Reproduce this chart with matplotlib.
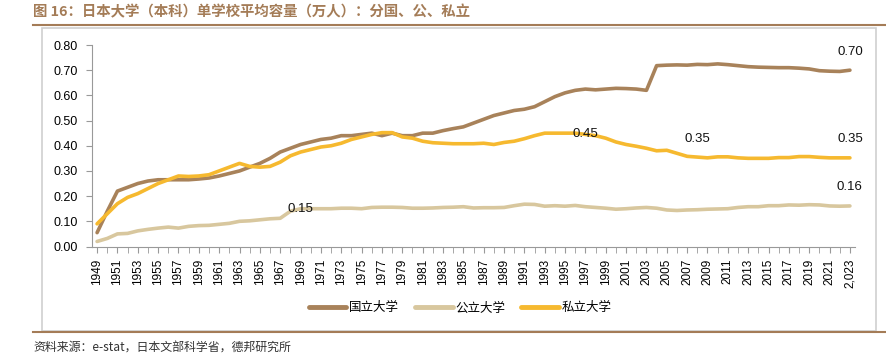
import matplotlib
matplotlib.use('Agg')
import matplotlib.pyplot as plt
import numpy as np
from matplotlib.patches import Rectangle
from matplotlib.lines import Line2D

plt.rcParams['font.family'] = ['Liberation Sans', 'Noto Sans CJK SC', 'DejaVu Sans']

years = list(range(1949, 2024))

national = [0.055, 0.14, 0.22, 0.235, 0.25, 0.26, 0.265, 0.265, 0.265, 0.265,
            0.268, 0.272, 0.28, 0.29, 0.30, 0.315, 0.33, 0.35, 0.375, 0.39,
            0.405, 0.415, 0.425, 0.43, 0.44, 0.44, 0.445, 0.45, 0.44, 0.45,
            0.44, 0.44, 0.45, 0.45, 0.46, 0.468, 0.475, 0.49, 0.505, 0.52,
            0.53, 0.54, 0.545, 0.555, 0.575, 0.595, 0.61, 0.62, 0.625, 0.622,
            0.625, 0.628, 0.627, 0.625, 0.62, 0.718, 0.72, 0.721, 0.72, 0.723,
            0.722, 0.725, 0.722, 0.718, 0.714, 0.712, 0.711, 0.71, 0.71, 0.708,
            0.705, 0.698, 0.696, 0.695, 0.70]

public = [0.02, 0.032, 0.05, 0.052, 0.062, 0.068, 0.073, 0.077, 0.073, 0.08,
          0.083, 0.084, 0.088, 0.092, 0.10, 0.102, 0.106, 0.11, 0.112, 0.14,
          0.15, 0.15, 0.15, 0.15, 0.152, 0.152, 0.15, 0.155, 0.156, 0.156,
          0.155, 0.152, 0.152, 0.153, 0.155, 0.156, 0.158, 0.153, 0.154, 0.154,
          0.155, 0.162, 0.168, 0.167, 0.16, 0.162, 0.16, 0.163, 0.158, 0.155,
          0.152, 0.148, 0.15, 0.153, 0.155, 0.152, 0.145, 0.143, 0.145, 0.146,
          0.148, 0.149, 0.15, 0.155, 0.158, 0.158, 0.162, 0.162, 0.165, 0.164,
          0.166, 0.165, 0.161, 0.16, 0.161]

private = [0.09, 0.13, 0.17, 0.195, 0.21, 0.23, 0.25, 0.265, 0.28, 0.278,
           0.28, 0.285, 0.30, 0.315, 0.33, 0.318, 0.315, 0.318, 0.335, 0.36,
           0.375, 0.385, 0.395, 0.40, 0.41, 0.425, 0.435, 0.445, 0.452, 0.452,
           0.435, 0.43, 0.418, 0.412, 0.41, 0.408, 0.408, 0.408, 0.41, 0.405,
           0.413, 0.418, 0.428, 0.44, 0.45, 0.45, 0.45, 0.45, 0.445, 0.44,
           0.43, 0.415, 0.405, 0.398, 0.39, 0.38, 0.382, 0.37, 0.358, 0.355,
           0.352, 0.356, 0.356, 0.352, 0.35, 0.35, 0.35, 0.353, 0.353, 0.357,
           0.357, 0.354, 0.352, 0.352, 0.352]

names = ['国立大学', '公立大学', '私立大学']
colors = ['#A8825A', '#D8C79E', '#F6B92F']

# labelled points: (series index, year, text, placed above the point?)
labels = [(1, 1969, '0.15', False), (2, 1997, '0.45', False), (2, 2008, '0.35', True),
          (0, 2023, '0.70', True), (2, 2023, '0.35', True), (1, 2023, '0.16', True)]

tick_labels = [str(y) for y in years[::2]]
tick_labels[-1] = '2,023'

fig = plt.figure(figsize=(8.86, 3.61), dpi=100)

# outer frame and rules
fig.add_artist(Rectangle((42/886, 1-331/361), (876-42)/886, (331-28)/361,
                         transform=fig.transFigure, fill=False,
                         edgecolor='#d0d0d0', lw=1.2))
fig.add_artist(Line2D([33/886, 1.0], [1-25/361, 1-25/361], transform=fig.transFigure,
                      color='#A47C57', lw=1.5))
fig.add_artist(Line2D([33/886, 1.0], [1-332/361, 1-332/361], transform=fig.transFigure,
                      color='#A47C57', lw=1.5))

fig.text(33/886, 1-12/361, '图 16：日本大学（本科）单学校平均容量（万人）：分国、公、私立',
         fontsize=10.4, fontweight='bold', color='#A47C57', va='center', ha='left',
         family=['Noto Sans CJK SC', 'DejaVu Sans'])
fig.text(33/886, 1-348/361, '资料来源：e-stat，日本文部科学省，德邦研究所',
         fontsize=8.6, color='#333333', va='center', ha='left',
         family=['Noto Sans CJK SC', 'DejaVu Sans'])

ax = fig.add_axes([92/886, 1-246.5/361, (855-92)/886, (246.5-45)/361])
series = [national, public, private]
for s, name, c in zip(series, names, colors):
    ax.plot(years, s, color=c, lw=2.6, label=name, solid_capstyle='round')

for idx, yr, txt, above in labels:
    v = series[idx][years.index(yr)]
    if above:
        ax.annotate(txt, (yr, v), xytext=(0, 9), textcoords='offset points',
                    ha='center', va='bottom', fontsize=9.5, color='#111111')
    else:
        ax.annotate(txt, (yr, v), ha='center', va='center',
                    fontsize=9.5, color='#111111')

ax.set_xlim(1948.5, 2023.5)
ax.set_ylim(0, 0.8)
ax.set_yticks(np.arange(0, 0.81, 0.1))
ax.set_yticklabels(['%.2f' % v for v in np.arange(0, 0.81, 0.1)], fontsize=9)
ax.set_xticks(years[::2])
ax.set_xticklabels(tick_labels, rotation=90, fontsize=8.5)
ax.set_xticks(years, minor=True)

for sp in ['top', 'right']:
    ax.spines[sp].set_visible(False)
for sp in ['left', 'bottom']:
    ax.spines[sp].set_color('#999999')
    ax.spines[sp].set_linewidth(0.8)
ax.tick_params(axis='y', length=4, color='#999999', pad=6)
ax.tick_params(axis='x', which='both', length=4, color='#999999', pad=5, direction='out')

leg = fig.legend(loc='center', bbox_to_anchor=(460/886, 1-308/361), ncol=3,
                 frameon=False, handlelength=3.0, handletextpad=0.2,
                 columnspacing=1.3, prop={'family': ['Noto Sans CJK SC', 'DejaVu Sans'], 'size': 9})
for line in leg.get_lines():
    line.set_linewidth(3.5)

fig.savefig('out.png', dpi=100)
